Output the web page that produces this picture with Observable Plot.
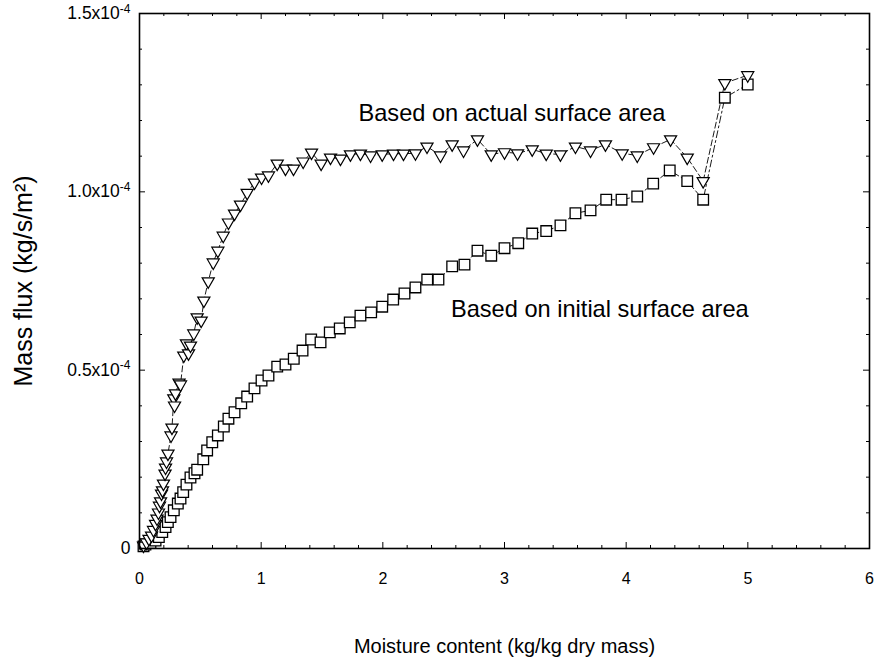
<!DOCTYPE html>
<html>
<head>
<meta charset="utf-8">
<script src="https://cdn.jsdelivr.net/npm/d3@7"></script>
<script src="https://cdn.jsdelivr.net/npm/@observablehq/plot@0.6"></script>
<style>
  html, body { margin: 0; padding: 0; background: #fff; }
  #chart { width: 878px; height: 669px; }
  svg { font-family: "Liberation Sans", Arial, sans-serif; }
</style>
</head>
<body>
<div id="chart"></div>
<script>
// Moisture content (kg/kg dry mass) and mass flux (kg/s/m²)
// Series 1: based on actual surface area (down triangles)
const actualX = [0.033, 0.058, 0.078, 0.099, 0.115, 0.132, 0.144, 0.156, 0.164, 0.173, 0.181, 0.189, 0.197, 0.210, 0.214, 0.222, 0.234, 0.259, 0.267, 0.282, 0.288, 0.296, 0.325, 0.337, 0.364, 0.386, 0.403, 0.419, 0.446, 0.474, 0.507, 0.529, 0.565, 0.606, 0.644, 0.688, 0.731, 0.781, 0.830, 0.885, 0.945, 1.003, 1.060, 1.132, 1.200, 1.266, 1.345, 1.414, 1.493, 1.570, 1.652, 1.734, 1.816, 1.899, 1.995, 2.088, 2.170, 2.268, 2.363, 2.474, 2.570, 2.663, 2.778, 2.891, 3.000, 3.107, 3.228, 3.343, 3.460, 3.583, 3.707, 3.830, 3.967, 4.091, 4.225, 4.365, 4.502, 4.633, 4.811, 4.999];
const actualFlux = [0.008, 0.017, 0.027, 0.036, 0.052, 0.069, 0.084, 0.101, 0.120, 0.132, 0.154, 0.163, 0.182, 0.210, 0.227, 0.244, 0.266, 0.317, 0.339, 0.421, 0.401, 0.435, 0.465, 0.460, 0.541, 0.575, 0.547, 0.569, 0.603, 0.648, 0.639, 0.695, 0.749, 0.802, 0.835, 0.877, 0.914, 0.939, 0.964, 0.997, 1.026, 1.040, 1.046, 1.079, 1.065, 1.065, 1.085, 1.110, 1.079, 1.096, 1.093, 1.105, 1.107, 1.102, 1.105, 1.107, 1.107, 1.108, 1.127, 1.102, 1.133, 1.116, 1.147, 1.105, 1.111, 1.108, 1.119, 1.107, 1.105, 1.127, 1.116, 1.133, 1.108, 1.102, 1.125, 1.147, 1.096, 1.030, 1.305, 1.327]; // ×1e-4

// Series 2: based on initial surface area (squares)
const initialX = [0.033, 0.049, 0.090, 0.132, 0.159, 0.187, 0.214, 0.233, 0.255, 0.282, 0.315, 0.337, 0.359, 0.386, 0.419, 0.452, 0.474, 0.524, 0.556, 0.598, 0.644, 0.693, 0.731, 0.781, 0.836, 0.885, 0.945, 1.003, 1.060, 1.132, 1.200, 1.268, 1.340, 1.411, 1.488, 1.564, 1.646, 1.728, 1.816, 1.904, 1.995, 2.085, 2.178, 2.268, 2.365, 2.457, 2.570, 2.671, 2.778, 2.891, 3.000, 3.113, 3.228, 3.343, 3.460, 3.583, 3.707, 3.836, 3.962, 4.091, 4.222, 4.358, 4.502, 4.633, 4.811, 4.999];
const initialFlux = [0.006, 0.011, 0.015, 0.022, 0.032, 0.046, 0.060, 0.074, 0.088, 0.107, 0.126, 0.140, 0.158, 0.179, 0.199, 0.211, 0.221, 0.250, 0.275, 0.298, 0.317, 0.342, 0.364, 0.382, 0.407, 0.426, 0.449, 0.471, 0.485, 0.510, 0.516, 0.532, 0.555, 0.586, 0.578, 0.606, 0.617, 0.634, 0.653, 0.662, 0.678, 0.698, 0.715, 0.732, 0.754, 0.754, 0.791, 0.796, 0.835, 0.821, 0.842, 0.856, 0.883, 0.890, 0.906, 0.940, 0.948, 0.978, 0.978, 0.987, 1.023, 1.060, 1.030, 0.978, 1.264, 1.301]; // ×1e-4

const xMajorTicks = [0, 1, 2, 3, 4, 5, 6];
const xMajorLabels = ["0", "1", "2", "3", "4", "5", "6"];
const xMinorTicks = [0.2, 0.4, 0.6, 0.8, 1.2, 1.4, 1.6, 1.8, 2.2, 2.4, 2.6, 2.8, 3.2, 3.4, 3.6, 3.8, 4.2, 4.4, 4.6, 4.8, 5.2, 5.4, 5.6, 5.8];
const yMajorTicks = [0, 0.5e-4, 1.0e-4, 1.5e-4];
const yMajorLabels = ["0", "0.5x10|-4", "1.0x10|-4", "1.5x10|-4"];
const yMinorTicks = [0.1e-4, 0.2e-4, 0.3e-4, 0.4e-4, 0.6e-4, 0.7e-4, 0.8e-4, 0.9e-4, 1.1e-4, 1.2e-4, 1.3e-4, 1.4e-4];

const xTitle = "Moisture content (kg/kg dry mass)";
const yTitle = "Mass flux (kg/s/m²)";
const labelActual = "Based on actual surface area";
const labelInitial = "Based on initial surface area";

const actual = actualX.map((x, i) => ({x, y: actualFlux[i] * 1e-4}));
const initial = initialX.map((x, i) => ({x, y: initialFlux[i] * 1e-4}));

const W = 878, H = 669;
const mT = 13, mB = 121, mL = 139, mR = 9;
const innerH = H - mT - mB, innerW = W - mL - mR;
const majorLen = 6, minorLen = 3;

const chart = Plot.plot({
  width: W,
  height: H,
  marginTop: mT,
  marginBottom: mB,
  marginLeft: mL,
  marginRight: mR,
  style: {fontFamily: "'Liberation Sans', Arial, sans-serif", background: "white", color: "black"},
  x: {domain: [0, 6]},
  y: {domain: [0, 1.5e-4]},
  marks: [
    // inward ticks, bottom & top
    Plot.tickX(xMajorTicks, {x: d => d, insetTop: innerH - majorLen, stroke: "black", strokeWidth: 1}),
    Plot.tickX(xMajorTicks, {x: d => d, insetBottom: innerH - majorLen, stroke: "black", strokeWidth: 1}),
    Plot.tickX(xMinorTicks, {x: d => d, insetTop: innerH - minorLen, stroke: "black", strokeWidth: 1}),
    Plot.tickX(xMinorTicks, {x: d => d, insetBottom: innerH - minorLen, stroke: "black", strokeWidth: 1}),
    // inward ticks, left & right
    Plot.tickY(yMajorTicks, {y: d => d, insetRight: innerW - majorLen, stroke: "black", strokeWidth: 1}),
    Plot.tickY(yMajorTicks, {y: d => d, insetLeft: innerW - majorLen, stroke: "black", strokeWidth: 1}),
    Plot.tickY(yMinorTicks, {y: d => d, insetRight: innerW - minorLen, stroke: "black", strokeWidth: 1}),
    Plot.tickY(yMinorTicks, {y: d => d, insetLeft: innerW - minorLen, stroke: "black", strokeWidth: 1}),
    Plot.axisX(xMajorTicks, {anchor: "bottom", tickSize: 0, tickPadding: 24, fontSize: 16, label: null,
      tickFormat: d => xMajorLabels[xMajorTicks.indexOf(d)]}),
    Plot.axisY(yMajorTicks, {anchor: "left", tickSize: 0, tickPadding: 9, fontSize: 17.5, label: null,
      tickFormat: d => yMajorLabels[yMajorTicks.indexOf(d)]}),
    // connecting lines
    Plot.line(initial, {x: "x", y: "y", stroke: "black", strokeWidth: 0.9, strokeDasharray: "7,3,2,3"}),
    Plot.line(actual, {x: "x", y: "y", stroke: "black", strokeWidth: 0.9, strokeDasharray: "6,3"}),
    // markers
    Plot.dot(initial, {x: "x", y: "y", symbol: "square", r: 6, fill: "white", stroke: "black", strokeWidth: 1.3}),
    Plot.dot(actual, {x: "x", y: "y", symbol: "triangle", rotate: 180, r: 4.5, fill: "white", stroke: "black", strokeWidth: 1.2}),
    // annotations
    Plot.text([labelActual], {x: 1.8, y: 1.22e-4, text: d => d, textAnchor: "start", fontSize: 23.6, fill: "black"}),
    Plot.text([labelInitial], {x: 2.56, y: 0.67e-4, text: d => d, textAnchor: "start", fontSize: 23.6, fill: "black"}),
    // axis titles
    Plot.text([xTitle], {frameAnchor: "bottom", textAnchor: "middle", dy: 104, text: d => d, fontSize: 20, fill: "black"}),
    Plot.text([yTitle], {frameAnchor: "left", textAnchor: "middle", dx: -116, rotate: -90, text: d => d, fontSize: 25, fill: "black"}),
    Plot.frame({stroke: "black", strokeWidth: 1.6})
  ]
});

// superscript exponents on the y tick labels
d3.select(chart).selectAll('g[aria-label="y-axis tick label"] text').each(function() {
  const t = d3.select(this);
  const s = t.text();
  if (s.includes("|")) {
    const [base, exp] = s.split("|");
    t.text(base);
    t.append("tspan").attr("dy", "-0.55em").attr("font-size", "12px").text(exp);
  }
});

document.getElementById("chart").appendChild(chart);
</script>
</body>
</html>
